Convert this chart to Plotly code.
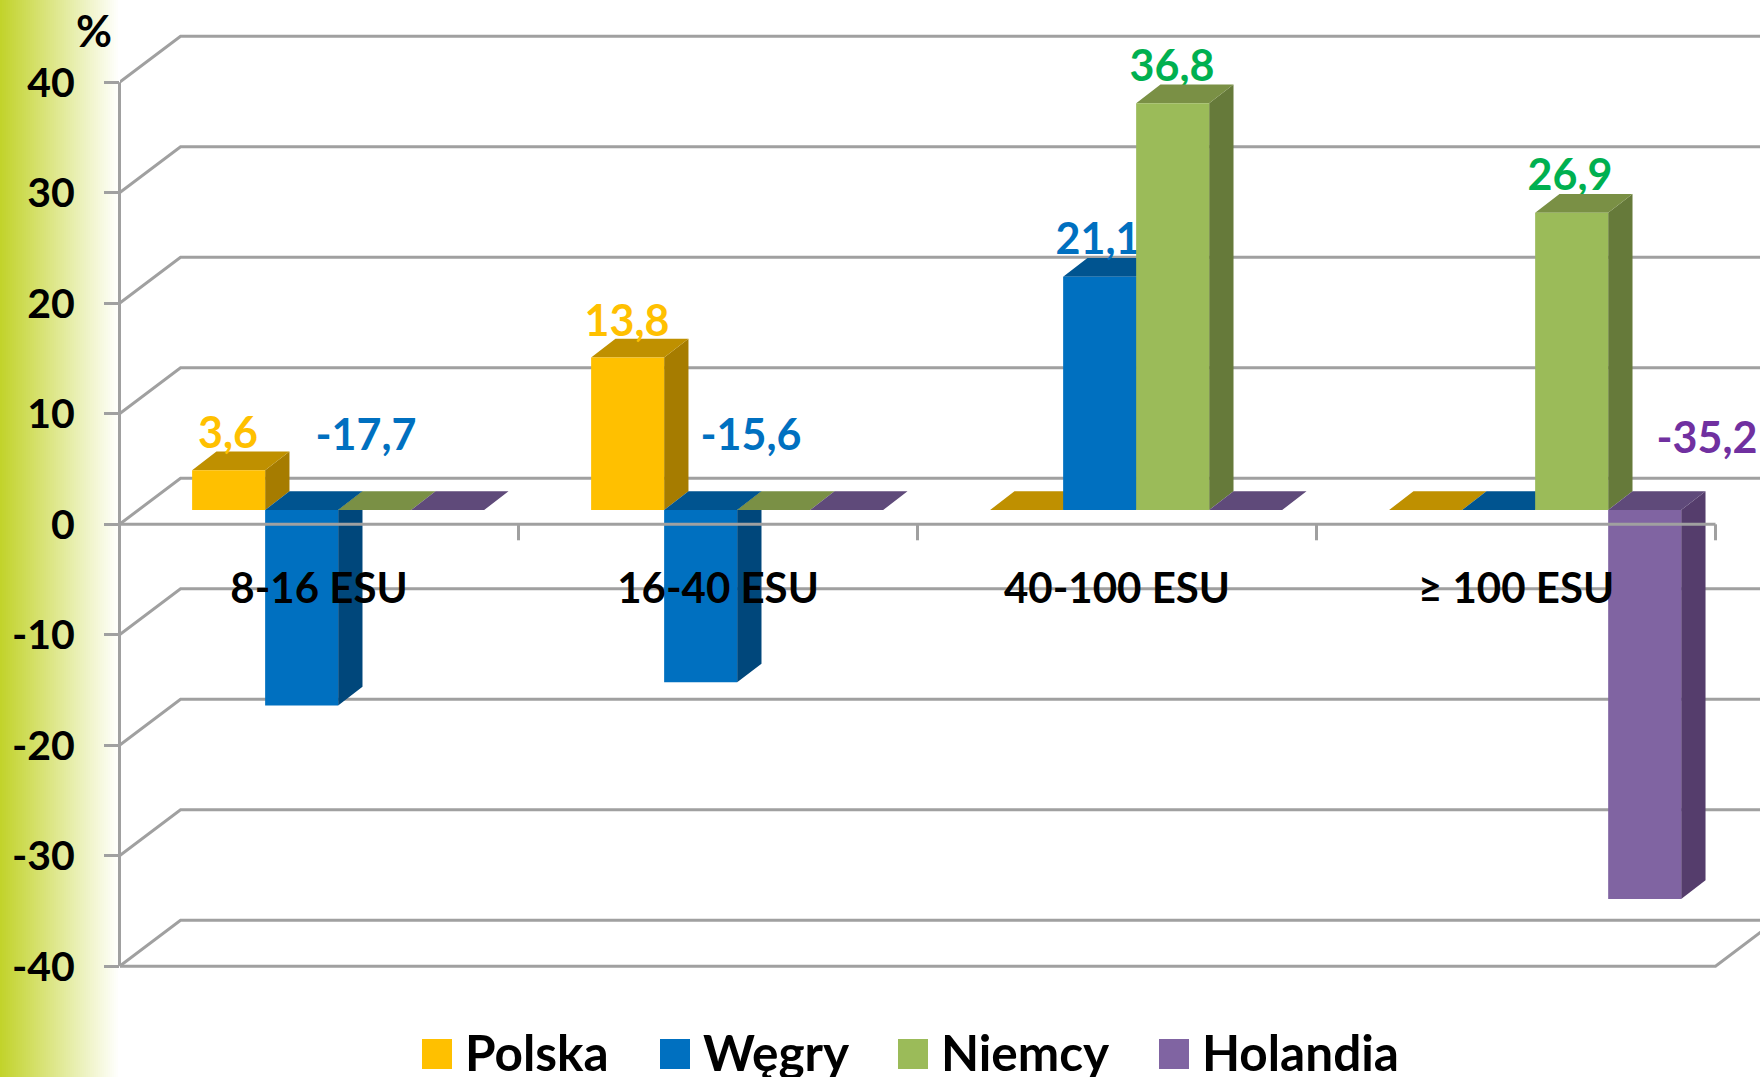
import plotly.graph_objects as go

categories = ["8-16 ESU", "16-40 ESU", "40-100 ESU", "≥ 100 ESU"]
polska = [3.6, 13.8, 0, 0]
wegry = [-17.7, -15.6, 21.1, 0]
niemcy = [0, 0, 36.8, 26.9]
holandia = [0, 0, 0, -35.2]
y_ticks = [40, 30, 20, 10, 0, -10, -20, -30, -40]

label_texts = ["3,6", "-17,7", "13,8", "-15,6", "21,1", "36,8", "26,9", "-35,2"]
label_colors = ["#FFC000", "#0070C0", "#FFC000", "#0070C0", "#0070C0", "#00B050", "#00B050", "#7030A0"]
label_px = [228, 366, 627, 751, 1098, 1172, 1570, 1707]
label_py = [437, 439, 325, 439, 243, 70, 179, 442]

W, H = 1760, 1077
ML, MB = 120, 90
X0_PX, Y0_PX = 119.5, 524.3
PX_CAT, PX_UNIT = 399.0, 11.05

def ax(px):
    return (px - X0_PX) / PX_CAT

def ay(py):
    return (Y0_PX - py) / PX_UNIT

def paper_x(px):
    return (px - ML) / (W - ML)

def paper_y(py):
    return (H - MB - py) / (H - MB)

series = [
    ("Polska", polska, "#FFC000", "#BF9000", "#A67C00"),
    ("Węgry", wegry, "#0070C0", "#005490", "#00477B"),
    ("Niemcy", niemcy, "#9BBB59", "#7A9045", "#667A3A"),
    ("Holandia", holandia, "#8064A2", "#5F4A7A", "#553D6C"),
]

GAP = 0.182
BAR_W = 0.183
BASE = 1.3
DX, DY = 0.061, 1.69
WALL_DX, WALL_DY = 0.153, 4.17
GRAY = "#A0A0A0"
LINE_W = 3
FONT = "Lato"

fig = go.Figure()

# back wall and side wall lines
wx, wy = [], []
for v in y_ticks:
    wx += [0, WALL_DX, 4 + WALL_DX, None]
    wy += [v, v + WALL_DY, v + WALL_DY, None]
wx += [0, 4, 4 + WALL_DX, None]
wy += [-40, -40, -40 + WALL_DY, None]
fig.add_trace(go.Scatter(x=wx, y=wy, mode="lines", line=dict(color=GRAY, width=LINE_W),
                         hoverinfo="skip", showlegend=False))

def poly(points, color, name):
    xs, ys = [], []
    for p in points:
        for a, b in p:
            xs.append(a)
            ys.append(b)
        xs.append(None)
        ys.append(None)
    fig.add_trace(go.Scatter(x=xs, y=ys, mode="lines", fill="toself", fillcolor=color,
                             line=dict(width=0, color=color), name=name,
                             hoverinfo="skip", showlegend=False))

for j, (name, vals, front, top, side) in enumerate(series):
    if name == "Niemcy":
        lx = [ax(p) for p in label_px]
        ly = [ay(p) for p in label_py]
        fig.add_trace(go.Scatter(x=lx, y=ly, mode="text", text=label_texts,
                                 textposition="middle center",
                                 textfont=dict(family=FONT, size=43, weight=700, color=label_colors),
                                 hoverinfo="skip", showlegend=False))
    sides, tops, fronts = [], [], []
    for i, v in enumerate(vals):
        l = i + GAP + j * BAR_W
        r = l + BAR_W
        upper = BASE + max(v, 0)
        lower = BASE + min(v, 0)
        tops.append([(l, upper), (r, upper), (r + DX, upper + DY), (l + DX, upper + DY)])
        if v != 0:
            sides.append([(r, lower), (r + DX, lower + DY), (r + DX, upper + DY), (r, upper)])
            fronts.append([(l, lower), (r, lower), (r, upper), (l, upper)])
    if sides:
        poly(sides, side, name + " bok")
    poly(tops, top, name + " góra")
    if fronts:
        poly(fronts, front, name)

# front zero line with category separators
zx, zy = [0, 4, None], [0, 0, None]
for k in range(1, 5):
    zx += [k, k, None]
    zy += [0, -16 / PX_UNIT, None]
fig.add_trace(go.Scatter(x=zx, y=zy, mode="lines", line=dict(color=GRAY, width=LINE_W),
                         hoverinfo="skip", showlegend=False))

# category labels
fig.add_trace(go.Scatter(x=[i + 0.5 for i in range(4)], y=[ay(592)] * 4, mode="text", text=categories,
                         textposition="middle center",
                         textfont=dict(family=FONT, size=42, weight=700, color="#000000"),
                         hoverinfo="skip", showlegend=False))

shapes = []
# green gradient strip at the left edge
STEPS = 60
for s in range(STEPS):
    t = s / (STEPS - 1)
    r = round(194 + (255 - 194) * t)
    g = round(211 + (255 - 211) * t)
    b = round(43 + (255 - 43) * t)
    shapes.append(dict(type="rect", xref="paper", yref="paper", layer="below",
                       x0=paper_x(s * 2), x1=paper_x(s * 2 + 2), y0=paper_y(H), y1=paper_y(0),
                       fillcolor=f"rgb({r},{g},{b})", line=dict(width=0)))

# value axis line, half of which would be clipped as a trace
shapes.append(dict(type="line", xref="paper", yref="paper",
                   x0=paper_x(X0_PX), x1=paper_x(X0_PX),
                   y0=paper_y(Y0_PX - 40 * PX_UNIT), y1=paper_y(Y0_PX + 40 * PX_UNIT),
                   line=dict(color=GRAY, width=LINE_W)))

annotations = [dict(text="%", xref="paper", yref="paper", x=paper_x(94), y=paper_y(30),
                    showarrow=False, xanchor="center", yanchor="middle",
                    font=dict(family=FONT, size=44, weight=700, color="#000000"))]

# legend
legend_swatch = [422, 660, 898, 1159]
legend_text = [463, 701, 939, 1200]
for (name, vals, front, top, side), sx, tx in zip(series, legend_swatch, legend_text):
    shapes.append(dict(type="rect", xref="paper", yref="paper",
                       x0=paper_x(sx), x1=paper_x(sx + 30), y0=paper_y(1069), y1=paper_y(1039),
                       fillcolor=front, line=dict(width=0)))
    annotations.append(dict(text=name, xref="paper", yref="paper", x=paper_x(tx), y=paper_y(1052),
                            showarrow=False, xanchor="left", yanchor="middle",
                            font=dict(family=FONT, size=49.5, weight=700, color="#000000")))

fig.update_layout(
    width=W, height=H, autosize=False,
    margin=dict(l=ML, r=0, t=0, b=MB, pad=0),
    paper_bgcolor="#FFFFFF", plot_bgcolor="rgba(0,0,0,0)",
    showlegend=False, shapes=shapes, annotations=annotations,
    xaxis=dict(range=[ax(ML), ax(W)], visible=False, fixedrange=True),
    yaxis=dict(range=[ay(H - MB), ay(0)], tickvals=y_ticks, ticktext=[str(v) for v in y_ticks],
               ticks="outside", ticklen=15, tickwidth=LINE_W, tickcolor=GRAY, ticklabelstandoff=21,
               showgrid=False, zeroline=False, showline=False, fixedrange=True,
               tickfont=dict(family=FONT, size=41, weight=700, color="#000000")),
)
fig.write_html("out.html", config=dict(displayModeBar=False),
               post_script="document.body.style.margin='0';document.body.style.overflow='hidden';")
